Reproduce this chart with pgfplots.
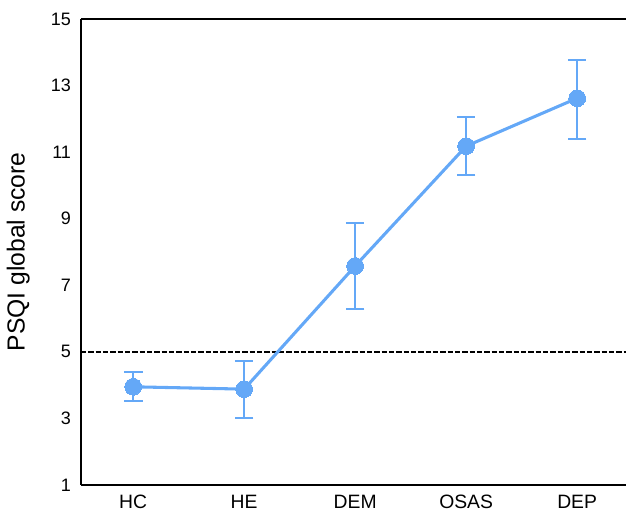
\documentclass[border=0pt]{standalone}
\usepackage{fontspec}
\setmainfont{Liberation Sans}
\usepackage{pgfplots}
\pgfplotsset{compat=1.18}
\usetikzlibrary{calc}
\definecolor{psqiblue}{RGB}{100,168,247}

\pgfplotstableread{
x   y      ep    em
0   3.95   0.44  0.42
1   3.88   0.84  0.87
2   7.58   1.29  1.29
3   11.18  0.87  0.87
4   12.62  1.14  1.23
}\psqi

\begin{document}
\begin{tikzpicture}
\begin{axis}[
    name=ax,
    scale only axis,
    width=408.75pt,
    height=349.5pt,
    xmin=-0.47, xmax=4.44,
    ymin=1, ymax=15,
    ytick={1,3,...,15},
    xtick={0,1,2,3,4},
    xticklabels={HC, HE, DEM, OSAS, DEP},
    axis x line=box,
    axis y line=left,
    axis line style={line width=1.75pt, -},
    major tick length=0pt,
    yticklabel style={font=\fontsize{13.5}{14}\selectfont, xshift=-4pt},
    xticklabel style={font=\fontsize{14.5}{16}\selectfont, yshift=-4pt},
    /pgf/number format/assume math mode=true,
    ylabel={PSQI global score},
    every axis y label/.style={at={(rel axis cs:0,0.5)}, xshift=-47pt, rotate=90, anchor=center,
        font=\fontsize{18.5}{20}\selectfont},
    clip=false,
]
\addplot[black, line width=1.5pt, dash pattern=on 4pt off 1.5pt, forget plot] coordinates {(-0.47,5) (4.44,5)};
\addplot[
    psqiblue, line width=2.3pt,
    mark=*, mark size=6.3pt, mark options={fill=psqiblue, draw=psqiblue, line width=0pt},
    error bars/.cd,
      y dir=both, y explicit,
      error bar style={line width=1.8pt, psqiblue},
      error mark options={rotate=90, mark size=7pt, line width=1.8pt, psqiblue},
] table[x=x, y=y, y error plus=ep, y error minus=em] {\psqi};
\end{axis}
\pgfresetboundingbox
\path ($(ax.south west)+(-60.75pt,-21pt)$) rectangle ($(ax.north east)+(0,14.25pt)$);
\end{tikzpicture}
\end{document}
